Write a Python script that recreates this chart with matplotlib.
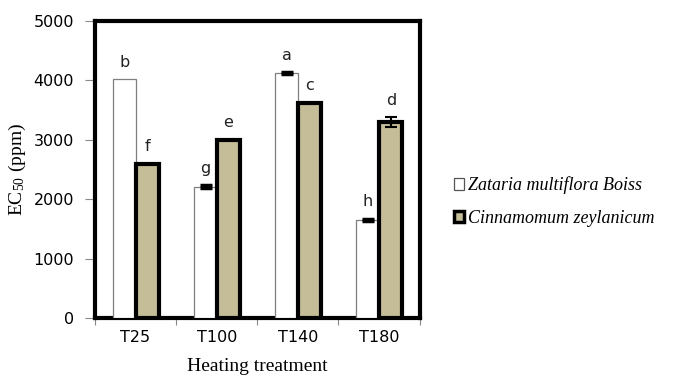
import matplotlib
matplotlib.use("Agg")
import matplotlib.pyplot as plt
import numpy as np
from matplotlib.patches import Patch

categories = ["T25", "T100", "T140", "T180"]
zataria = [4020, 2210, 4120, 1650]
zataria_err = [0, 25, 15, 15]
cinnamomum = [2600, 3000, 3625, 3295]
cinnamomum_err = [0, 0, 0, 85]
zataria_letters = ["b", "g", "a", "h"]
cinnamomum_letters = ["f", "e", "c", "d"]
yticks = [0, 1000, 2000, 3000, 4000, 5000]

plt.rcParams["mathtext.fontset"] = "custom"
plt.rcParams["mathtext.rm"] = "Liberation Serif"
plt.rcParams["mathtext.it"] = "Liberation Serif:italic"

fig = plt.figure(figsize=(6.78, 3.77), dpi=100)
ax = fig.add_axes([0.140, 0.1565, 0.479, 0.7875])

x = np.arange(len(categories))
w = 0.284
tan = "#C4BD97"

ax.bar(x - 0.138, zataria, width=w, color="white", edgecolor="#7f7f7f",
       linewidth=0.9, zorder=3)
ax.bar(x + 0.146, cinnamomum, width=w, color=tan, edgecolor="black",
       linewidth=3, zorder=3)

for xi, v, e in zip(x - 0.138, zataria, zataria_err):
    if e > 0:
        ax.errorbar(xi, v, yerr=e, color="black", capsize=4, capthick=2.5,
                    elinewidth=1.5, zorder=4)
for xi, v, e in zip(x + 0.146, cinnamomum, cinnamomum_err):
    if e > 0:
        ax.errorbar(xi, v, yerr=e, color="black", capsize=4, capthick=1.5,
                    elinewidth=1.5, zorder=4)

for xi, v, e, t in zip(x - 0.138, zataria, zataria_err, zataria_letters):
    ax.text(xi, v + e + 290, t, ha="center", va="center", fontsize=11.5,
            family="DejaVu Sans", color="#222222")
for xi, v, e, t in zip(x + 0.146, cinnamomum, cinnamomum_err, cinnamomum_letters):
    ax.text(xi, v + e + 290, t, ha="center", va="center", fontsize=11.5,
            family="DejaVu Sans", color="#222222")

ax.set_xlim(-0.5, 3.5)
ax.set_ylim(0, 5000)
ax.set_yticks(yticks)
ax.set_yticklabels([str(t) for t in yticks], fontsize=11.5, family="DejaVu Sans")
ax.set_xticks(x)
ax.set_xticklabels(categories, fontsize=11.5, family="DejaVu Sans")
ax.set_xticks(np.arange(-0.5, 4.0, 1.0), minor=True)
ax.tick_params(axis="x", which="major", length=0, pad=9)
ax.tick_params(axis="x", which="minor", length=5, width=0.8, color="#888888", direction="out")
ax.tick_params(axis="y", which="major", length=7, width=0.8, color="#888888", direction="out", pad=8)

for s in ax.spines.values():
    s.set_linewidth(3)
    s.set_color("black")

ax.set_ylabel("EC$_{\\mathrm{50}}$ (ppm)", family="Liberation Serif", fontsize=14, labelpad=1)
ax.yaxis.set_label_coords(-0.205, 0.5)
ax.set_xlabel("Heating treatment", family="Liberation Serif", fontsize=14, labelpad=9)

handles = [Patch(facecolor="white", edgecolor="#555555", linewidth=0.9),
           Patch(facecolor=tan, edgecolor="black", linewidth=2.5)]
leg = fig.legend(handles, ["Zataria multiflora Boiss", "Cinnamomum zeylanicum"],
                 loc="center left", bbox_to_anchor=(0.645, 0.465), frameon=False,
                 prop={"family": "Liberation Serif", "style": "italic", "size": 13},
                 handlelength=0.6, handleheight=0.6, handletextpad=0.2,
                 labelspacing=0.85)

fig.savefig("out.png", dpi=100)
